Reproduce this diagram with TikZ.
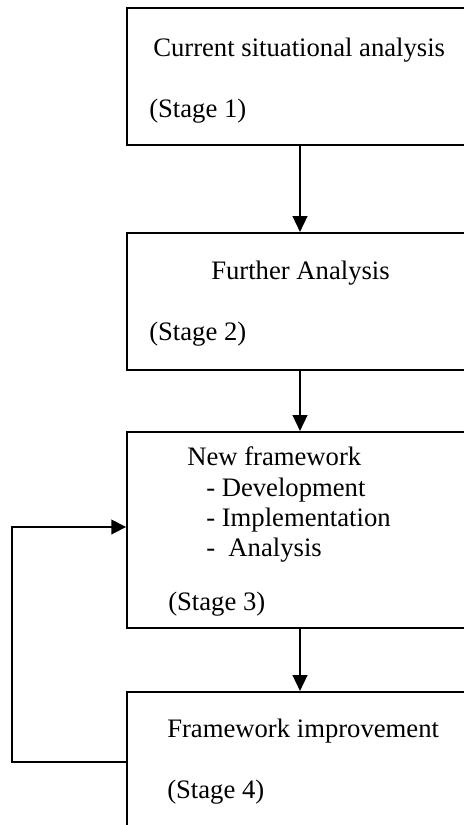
\documentclass[tikz,border=0pt]{standalone}
\usepackage{fontspec}
\setmainfont{Liberation Serif}
\usetikzlibrary{arrows.meta}
\begin{document}
\begin{tikzpicture}[x=0.75pt,y=-0.75pt,
  stagebox/.style={draw, line width=1.4pt, minimum width=346*0.75pt, inner sep=0pt, anchor=north},
  txt/.style={anchor=base west, inner sep=0pt, font=\fontsize{20}{24}\selectfont},
  flow/.style={line width=1.8pt, -{Triangle[length=12pt,width=11pt]}},
  back/.style={line width=1.3pt, -{Triangle[length=11pt,width=11pt]}}]
\useasboundingbox (0,0) rectangle (464,825);
\clip (0,0) rectangle (464,825);
\node[stagebox, minimum height=137*0.75pt] (b1) at (300,7) {};
\node[stagebox, minimum height=137*0.75pt] (b2) at (300,232) {};
\node[stagebox, minimum height=196*0.75pt] (b3) at (300,431) {};
\node[stagebox, minimum height=137*0.75pt] (b4) at (300,691) {};
\node[txt] (t1a) at (153,56) {Current situational analysis};
\node[txt] (t1b) at (149,117) {(Stage 1)};
\node[txt] (t2a) at (211,279) {Further Analysis};
\node[txt] (t2b) at (149,340) {(Stage 2)};
\node[txt] (t3a) at (187,465) {New framework};
\node[txt] (t3b) at (206,496) {- Development};
\node[txt] (t3c) at (206,526) {- Implementation};
\node[txt] (t3d) at (206,556) {-\ \ Analysis};
\node[txt] (t3e) at (168,610) {(Stage 3)};
\node[txt] (t4a) at (167,737) {Framework improvement};
\node[txt] (t4b) at (167,798) {(Stage 4)};
\draw[flow] (b1.south) -- (b2.north);
\draw[flow] (b2.south) -- (b3.north);
\draw[flow] (b3.south) -- (b4.north);
\coordinate (f1) at (12,762);
\coordinate (f2) at (12,527);
\draw[back] (b4.north west |- f1) -- (f1) -- (f2) -- (b3.north west |- f2);
\end{tikzpicture}
\end{document}
